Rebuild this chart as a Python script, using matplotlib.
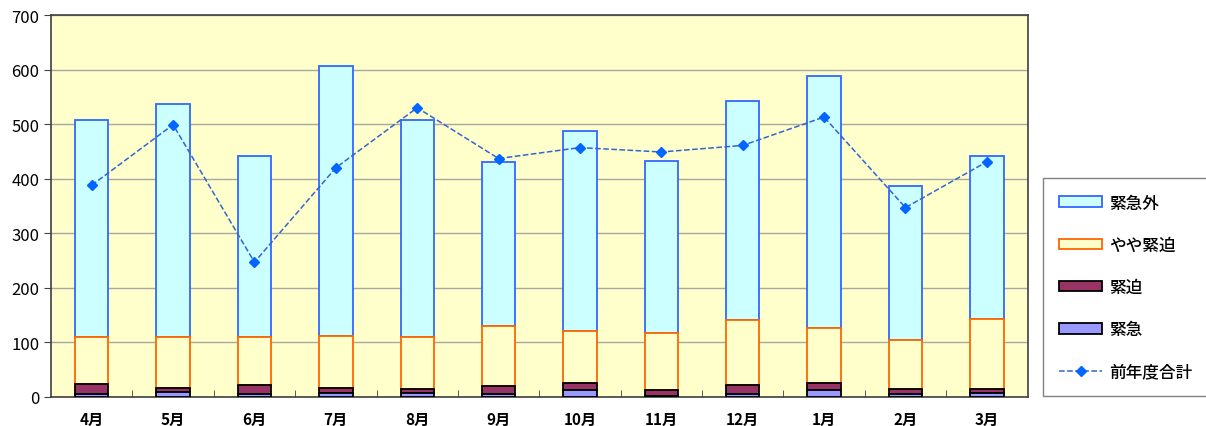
import numpy as np
import matplotlib
matplotlib.use("Agg")
import matplotlib.pyplot as plt
from matplotlib.ticker import MultipleLocator

plt.rcParams['font.family'] = ['Noto Sans CJK JP', 'DejaVu Sans']

months = ['4月', '5月', '6月', '7月', '8月', '9月', '10月', '11月', '12月', '1月', '2月', '3月']
kinkyu = [6, 10, 5, 7, 7, 5, 13, 2, 5, 13, 6, 7]            # 緊急
kinpaku = [18, 7, 17, 10, 8, 15, 12, 11, 17, 13, 8, 7]      # 緊迫
yaya = [86, 93, 88, 95, 94, 110, 95, 104, 119, 100, 90, 129]  # やや緊迫
kinkyugai = [398, 427, 332, 494, 399, 300, 368, 315, 401, 463, 282, 299]  # 緊急外
prev_total = [388, 499, 247, 420, 530, 437, 457, 449, 461, 513, 347, 431]  # 前年度合計

x = np.arange(len(months))
w = 0.41

fig = plt.figure(figsize=(12.06, 4.27), dpi=100)
ax = fig.add_axes([0.0423, 0.068, 0.8097, 0.8945])
ax.set_facecolor('#FFFFCC')

b1 = np.array(kinkyu)
b2 = b1 + np.array(kinpaku)
b3 = b2 + np.array(yaya)

h_gai = ax.bar(x, kinkyugai, w, bottom=b3, color='#CCFFFF', edgecolor='#3366FF', linewidth=1.3, label='緊急外', zorder=3)
h_yaya = ax.bar(x, yaya, w, bottom=b2, color='#FFFFCC', edgecolor='#FF6600', linewidth=1.3, label='やや緊迫', zorder=3)
h_pak = ax.bar(x, kinpaku, w, bottom=b1, color='#993366', edgecolor='black', linewidth=1.3, label='緊迫', zorder=3)
h_kyu = ax.bar(x, kinkyu, w, color='#9999FF', edgecolor='black', linewidth=1.3, label='緊急', zorder=3)
h_prev, = ax.plot(x, prev_total, linestyle='--', color='#3366CC', marker='D', markersize=5,
                  markerfacecolor='#0066FF', markeredgecolor='#0066FF', linewidth=1.1, label='前年度合計', zorder=4)

ax.set_xlim(-0.5, len(months) - 0.5)
ax.set_ylim(0, 700)
ax.yaxis.set_major_locator(MultipleLocator(100))
ax.grid(axis='y', color='#A8A8A0', linewidth=1, zorder=0)
ax.set_xticks(x)
ax.set_xticklabels(months, fontsize=11, fontweight='bold')
ax.set_xticks(np.arange(0.5, len(months) - 0.5, 1), minor=True)
ax.tick_params(axis='x', which='major', length=0, pad=10)
ax.tick_params(axis='x', which='minor', length=5, direction='in', color='#404040')
ax.tick_params(axis='y', labelsize=12, length=5, direction='out', color='#404040')
for s in ax.spines.values():
    s.set_color('#404040')
    s.set_linewidth(1.2)

fig.legend(handles=[h_gai, h_yaya, h_pak, h_kyu, h_prev],
           loc='lower left', bbox_to_anchor=(0.865, 0.07),
           prop={'size': 12, 'weight': 'medium'}, labelspacing=1.45, handlelength=2.6, handleheight=0.6,
           handletextpad=0.4, fancybox=False, edgecolor='#808080', framealpha=1,
           borderpad=0.95, borderaxespad=0)

fig.savefig('out.png', dpi=100)
